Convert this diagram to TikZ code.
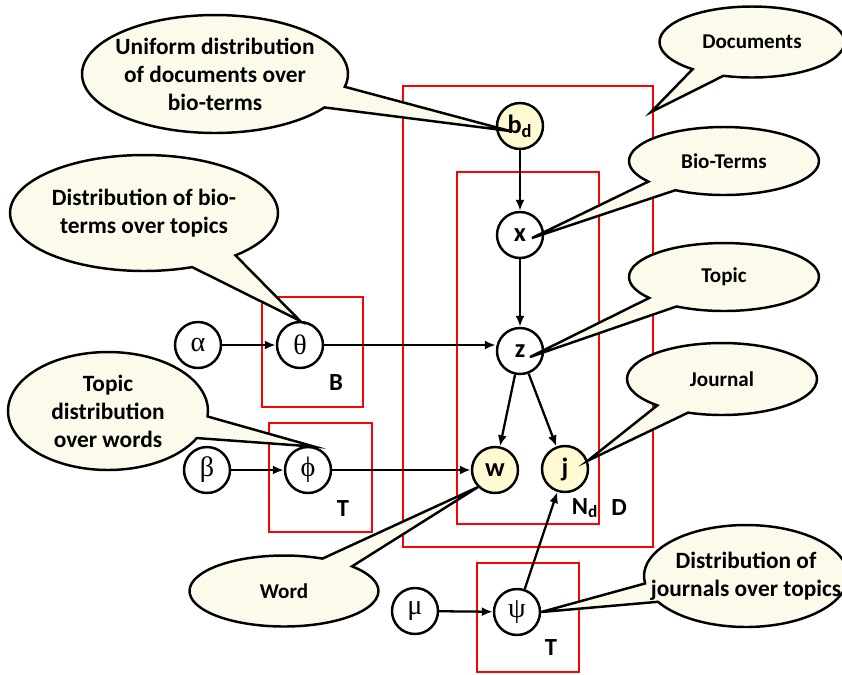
\documentclass[tikz,border=0pt]{standalone}
\usepackage{fontspec}
\setmainfont{Carlito}
\newfontfamily\greekfont{Liberation Serif}
\usetikzlibrary{shapes.callouts,arrows.meta}

\definecolor{bubblefill}{rgb}{0.99,0.985,0.92}
\definecolor{obsfill}{rgb}{1,0.98,0.82}

\tikzset{
  var/.style={circle, draw, line width=1.4pt, minimum size=0.92cm, inner sep=0pt,
    font=\bfseries\fontsize{15}{15}\selectfont},
  obs/.style={var, fill=obsfill},
  hyper/.style={var, font=\greekfont\fontsize{16}{16}\selectfont},
  plate/.style={draw=red, line width=1.4pt},
  platelabel/.style={font=\bfseries\fontsize{14}{14}\selectfont},
  edge/.style={-{Latex[length=2.2mm,width=1.8mm]}, line width=1.3pt},
  bubble/.style={ellipse callout, draw, line width=1.4pt, fill=bubblefill,
    callout pointer arc=22, inner xsep=-20pt,
    inner ysep=-20pt, align=center, font=\bfseries\fontsize{12}{15.9}\selectfont},
  bigbubble/.style={bubble, font=\bfseries\fontsize{13.3}{15.9}\selectfont}
}

\begin{document}
\begin{tikzpicture}[x=0.02cm, y=-0.02cm]
  \useasboundingbox (0,0) rectangle (842,674);
  \clip (0,0) rectangle (842,674);

  % Plates
  \draw[plate] (403,86) rectangle (653,547);
  \draw[plate] (457,172) rectangle (599,524);
  \draw[plate] (262,297) rectangle (363,407);
  \draw[plate] (269,423) rectangle (372,532);
  \draw[plate] (477,563) rectangle (579,672);
  \node[platelabel] (labB) at (336,383) {B};
  \node[platelabel] (labTphi) at (343,509) {T};
  \node[platelabel] (labNd) at (585,508) {N\textsubscript{d}};
  \node[platelabel] (labD) at (619,508) {D};
  \node[platelabel] (labTpsi) at (551,648) {T};

  % Variables
  \node[obs] (bd) at (520,126) {b\textsubscript{d}};
  \node[var] (xTerm) at (520,235) {x};
  \node[var] (zTopic) at (520,351) {z};
  \node[obs] (wWord) at (495,470) {w};
  \node[obs] (jJour) at (565,469) {j};

  % Hyperparameters and distributions
  \node[hyper] (alpha) at (198,345) {α};
  \node[hyper] (theta) at (300,345) {θ};
  \node[hyper] (beta) at (207,470) {β};
  \node[hyper] (phi) at (308,470) {ϕ};
  \node[hyper] (mu) at (415,611) {μ};
  \node[hyper] (psi) at (517,612) {ψ};

  % Edges
  \draw[edge] (bd) -- (xTerm);
  \draw[edge] (xTerm) -- (zTopic);
  \draw[edge] (alpha) -- (theta);
  \draw[edge] (theta) -- (theta -| zTopic.west);
  \draw[edge] (beta) -- (phi);
  \draw[edge] (phi) -- (wWord);
  \draw[edge] (zTopic) -- (wWord);
  \draw[edge] (zTopic) -- (jJour);
  \draw[edge] (mu) -- (psi);
  \draw[edge] (psi) -- (jJour);

  % Callouts
  \coordinate (tipBd) at (510,131);
  \coordinate (tipX) at (532,238);
  \coordinate (tipZ) at (530,357);
  \coordinate (tipDoc) at (651,112);
  \node[bigbubble, minimum width=5.32cm, minimum height=2.36cm,
    callout absolute pointer={(tipBd)}] (uniCall) at (215,74)
    {Uniform distribution\\of documents over\\bio-terms};
  \node[bigbubble, minimum width=5.36cm, minimum height=2.32cm,
    callout absolute pointer={(theta.north)}] (bioCall) at (144,213)
    {Distribution of bio-\\terms over topics};
  \node[bigbubble, minimum width=4cm, minimum height=2.36cm,
    callout absolute pointer={(phi.75)}] (wordsCall) at (108,411)
    {Topic\\distribution\\over words};
  \node[bubble, minimum width=3.78cm, minimum height=1.42cm,
    callout absolute pointer={(wWord.225)}] (wordCall) at (284,591) {Word};
  \node[bubble, minimum width=3.7cm, minimum height=1.42cm,
    callout absolute pointer={(tipDoc)}] (docCall) at (752,42) {Documents};
  \node[bubble, minimum width=3.8cm, minimum height=1.36cm,
    callout absolute pointer={(tipX)}] (termCall) at (724,161) {Bio-Terms};
  \node[bubble, minimum width=3.8cm, minimum height=1.36cm,
    callout absolute pointer={(tipZ)}] (topicCall) at (724,277) {Topic};
  \node[bubble, minimum width=3.8cm, minimum height=1.44cm,
    callout absolute pointer={(jJour.20)}] (jourCall) at (722,379) {Journal};
  \node[bigbubble, minimum width=4.08cm, minimum height=2.04cm,
    callout absolute pointer={(psi.east)}] (distCall) at (746,576)
    {Distribution of\\journals over topics};
\end{tikzpicture}
\end{document}
